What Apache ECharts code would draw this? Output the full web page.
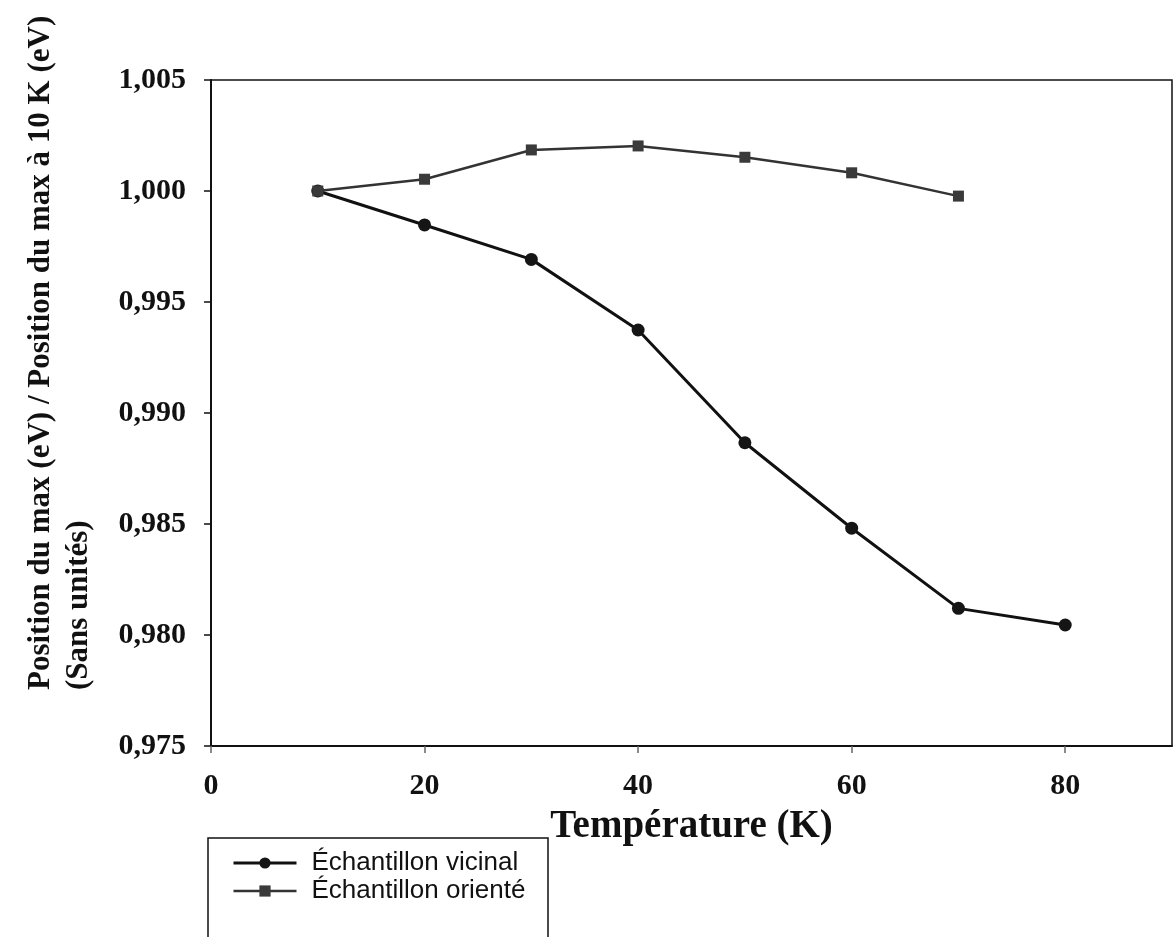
<!DOCTYPE html>
<html>
<head>
<meta charset="utf-8">
<script src="https://cdn.jsdelivr.net/npm/echarts@6/dist/echarts.min.js"></script>
<style>
  html, body { margin: 0; padding: 0; background: #fff; }
  #chart { width: 1173px; height: 937px; }
</style>
</head>
<body>
<div id="chart"></div>
<script>
// Temperatures (K)
const temperatures = [10, 20, 30, 40, 50, 60, 70, 80];
// Normalised peak position, vicinal sample
const vicinal = [1.0000, 0.99847, 0.99692, 0.99374, 0.98866, 0.98481, 0.98120, 0.98045];
// Normalised peak position, oriented sample (no 80 K measurement)
const oriente = [1.0000, 1.00053, 1.00185, 1.00203, 1.00152, 1.00082, 0.99977];

const seriesNames = ['Échantillon vicinal', 'Échantillon orienté'];
const xTitle = 'Température (K)';
const yTitleLines = ['Position du max (eV) / Position du max à 10 K (eV)', '(Sans unités)'];

const pairs = (xs, ys) => ys.map((y, i) => [xs[i], y]);
const serif = '"Liberation Serif", "Times New Roman", serif';
const sans = '"Liberation Sans", Arial, sans-serif';

const chart = echarts.init(document.getElementById('chart'), null, { renderer: 'canvas' });

chart.setOption({
  backgroundColor: '#ffffff',
  animation: false,
  grid: {
    left: 211, top: 80, right: 1, bottom: 191,
    show: true, borderColor: '#111', borderWidth: 1.5, backgroundColor: 'transparent'
  },
  legend: {
    left: 222, top: 850,
    orient: 'vertical',
    height: 70,
    data: [
      { name: seriesNames[0], lineStyle: { width: 3, color: '#111' } },
      { name: seriesNames[1], lineStyle: { width: 2.5, color: '#333' } }
    ],
    itemWidth: 63, itemHeight: 14, itemGap: 2,
    padding: [0, 0, 0, 10],
    textStyle: { fontFamily: sans, fontSize: 26, color: '#111', lineHeight: 26, padding: [0, 0, 0, 10] }
  },
  xAxis: {
    type: 'value', min: 0, max: 90, interval: 20,
    name: xTitle, nameLocation: 'middle', nameGap: 61,
    nameTextStyle: { fontFamily: serif, fontWeight: 'bold', fontSize: 39, color: '#111' },
    axisLine: { lineStyle: { color: '#111', width: 2 } },
    axisTick: { show: true, length: 7, lineStyle: { color: '#666', width: 1.5 } },
    axisLabel: {
      margin: 25, fontFamily: serif, fontWeight: 'bold', fontSize: 30, color: '#111',
      showMaxLabel: false
    },
    splitLine: { show: false }
  },
  yAxis: {
    type: 'value', min: 0.975, max: 1.005, interval: 0.005,
    axisLine: { show: true, lineStyle: { color: '#111', width: 2 } },
    axisTick: { show: true, length: 7, lineStyle: { color: '#111', width: 1.5 } },
    axisLabel: {
      margin: 25, fontFamily: serif, fontWeight: 'bold', fontSize: 30, color: '#111',
      formatter: v => v.toFixed(3).replace('.', ',')
    },
    splitLine: { show: false }
  },
  graphic: [
    {
      type: 'text', x: 41, y: 690, rotation: Math.PI / 2,
      style: {
        text: yTitleLines[0], fontFamily: serif, fontWeight: 'bold', fontSize: 31,
        fill: '#111', textAlign: 'left', textVerticalAlign: 'middle'
      }
    },
    {
      type: 'text', x: 79, y: 690, rotation: Math.PI / 2,
      style: {
        text: yTitleLines[1], fontFamily: serif, fontWeight: 'bold', fontSize: 31,
        fill: '#111', textAlign: 'left', textVerticalAlign: 'middle'
      }
    },
    {
      // legend frame, runs past the bottom edge
      type: 'rect', shape: { x: 208, y: 838, width: 340, height: 140 },
      style: { fill: 'none', stroke: '#111', lineWidth: 1.5 }
    }
  ],
  series: [
    {
      name: seriesNames[0], type: 'line', data: pairs(temperatures, vicinal),
      symbol: 'circle', symbolSize: 13,
      lineStyle: { color: '#111', width: 3 },
      itemStyle: { color: '#151515' },
      z: 2
    },
    {
      name: seriesNames[1], type: 'line', data: pairs(temperatures, oriente),
      symbol: 'rect', symbolSize: 11,
      lineStyle: { color: '#333', width: 2.5 },
      itemStyle: { color: '#3a3a3a' },
      z: 3
    }
  ]
});
</script>
</body>
</html>
